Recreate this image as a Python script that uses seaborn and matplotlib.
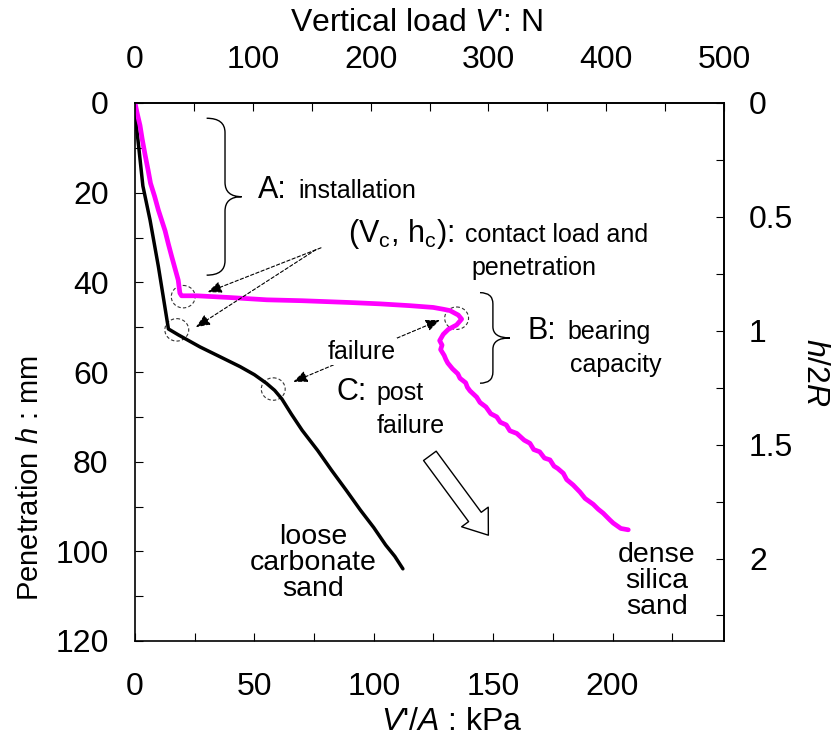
import numpy as np
import pandas as pd
import seaborn as sns
import matplotlib.pyplot as plt
from matplotlib.patches import Ellipse, FancyArrowPatch, PathPatch
from matplotlib.path import Path
from matplotlib.ticker import MultipleLocator, FixedLocator

# Caisson geometry (radius in mm) used for the secondary axes
radius_mm = 25.4
area_m2 = np.pi * (radius_mm / 1000.0) ** 2
load_max_N = 500.0
pressure_max_kPa = load_max_N / area_m2 / 1000.0

# Loose carbonate sand: bearing pressure (kPa) vs penetration (mm)
carbonate_kpa = [0.0, 0.4, 1.8, 3.3, 6.3, 9.8, 14.0, 18.1, 27.2, 36.0, 44.0,
                 50.0, 55.0, 58.5, 61.5, 65.5, 70.0, 76.5, 82.3, 88.5, 94.4,
                 100.0, 105.0, 108.8, 112.2]
carbonate_h = [0.0, 4.2, 11.0, 18.5, 26.1, 36.5, 50.4, 51.7, 54.4, 56.7, 58.8,
               60.6, 62.5, 64.1, 66.0, 69.4, 73.0, 77.5, 81.9, 86.4, 90.8,
               94.7, 98.6, 101.1, 103.9]

# Dense silica sand: bearing pressure (kPa) vs penetration (mm)
silica_kpa = [0.0, 1.0, 2.1, 3.0, 4.2, 5.5, 6.5, 8.2, 9.8, 11.2, 12.6, 14.0,
              15.4, 16.8, 18.1, 18.8, 19.5, 25.8, 40.0, 55.2, 70.0,
              90.0, 102.6, 115.0, 124.9, 129.1, 131.9, 135.4, 136.8, 134.7,
              131.2, 129.1, 127.6, 128.6, 128.0, 129.5, 130.2, 131.0, 133.0,
              135.2, 136.1, 138.5, 139.2, 140.3, 143.1, 144.5, 147.0, 149.0,
              151.5, 153.0, 155.5, 157.0, 159.9, 163.0, 165.4, 167.0, 169.5,
              171.5, 173.8, 175.5, 177.0, 179.4, 180.8, 183.5, 186.4, 188.5,
              191.9, 194.0, 196.1, 198.9, 200.3, 203.5, 206.6]
silica_h = [0.0, 2.5, 5.0, 8.0, 11.5, 15.0, 17.9, 20.8, 23.9, 26.2, 28.5, 31.5,
            34.3, 37.0, 39.5, 42.4, 43.0, 43.0, 43.4, 43.9, 44.1,
            44.5, 44.8, 45.2, 45.6, 46.0, 46.3, 47.3, 48.2, 49.5,
            50.5, 51.6, 53.0, 54.0, 55.0, 56.3, 57.2, 58.0, 59.3,
            60.4, 61.4, 62.4, 63.4, 64.2, 65.6, 66.8, 67.8, 69.3,
            70.0, 71.2, 71.8, 73.1, 73.7, 75.2, 75.9, 77.3, 77.8,
            79.2, 79.6, 81.0, 81.5, 82.6, 84.0, 85.2, 86.8, 88.2,
            89.5, 90.6, 91.5, 93.0, 93.7, 94.9, 95.2]

carbonate = pd.DataFrame({"pressure": carbonate_kpa, "h": carbonate_h})
silica = pd.DataFrame({"pressure": silica_kpa, "h": silica_h})

sns.set_theme(style="white")
plt.rcParams["font.family"] = ["Liberation Sans", "DejaVu Sans"]
plt.rcParams["mathtext.fontset"] = "custom"
plt.rcParams["mathtext.rm"] = "Liberation Sans"
plt.rcParams["mathtext.it"] = "Liberation Sans:italic"
for key in ["text.color", "axes.labelcolor", "xtick.color", "ytick.color",
            "axes.edgecolor", "xtick.labelcolor", "ytick.labelcolor"]:
    plt.rcParams[key] = "black"

W, H = 836, 736
fig = plt.figure(figsize=(W / 100, H / 100), dpi=100)
ax = fig.add_axes([135 / W, 1 - 641 / H, 589 / W, 538 / H])

sns.lineplot(data=carbonate, x="pressure", y="h", sort=False, estimator=None,
             color="black", lw=2.5, ax=ax)
sns.lineplot(data=silica, x="pressure", y="h", sort=False, estimator=None,
             color="#ff00ff", lw=3.4, ax=ax)

ax.set_xlim(0, pressure_max_kPa)
ax.set_ylim(120, 0)
ax.set_xlabel("")
ax.set_ylabel("")

for s in ax.spines.values():
    s.set_linewidth(1.2)
    s.set_color("black")

ax.xaxis.set_major_locator(FixedLocator([0, 50, 100, 150, 200]))
ax.xaxis.set_minor_locator(FixedLocator([25, 75, 125, 175, 225]))
ax.yaxis.set_major_locator(MultipleLocator(20))
ax.yaxis.set_minor_locator(MultipleLocator(10))
ax.tick_params(which="both", direction="in", length=6, width=0.8,
               top=False, right=False, bottom=True, left=True, color="black")
ax.tick_params(axis="x", labelsize=23, pad=22)
ax.tick_params(axis="y", labelsize=23, pad=19)

# Secondary axes: total load in N (top), normalised depth h/2R (right)
secx = ax.secondary_xaxis("top", functions=(lambda p: p * 1000 * area_m2,
                                            lambda n: n / (1000 * area_m2)))
secx.xaxis.set_major_locator(FixedLocator([0, 100, 200, 300, 400, 500]))
secx.xaxis.set_minor_locator(FixedLocator([50, 150, 250, 350, 450]))
secx.tick_params(which="both", direction="in", length=6, width=0.8, labelsize=23,
                 pad=20, colors="black")
secx.spines["top"].set_linewidth(1.2)

secy = ax.secondary_yaxis("right", functions=(lambda h: h / (2 * radius_mm),
                                              lambda r: r * 2 * radius_mm))
secy.yaxis.set_major_locator(FixedLocator([0, 0.5, 1, 1.5, 2]))
secy.yaxis.set_minor_locator(FixedLocator([0.25, 0.75, 1.25, 1.75, 2.25]))
secy.yaxis.set_major_formatter(plt.FuncFormatter(lambda v, _: f"{v:g}"))
secy.tick_params(which="both", direction="in", length=6, width=0.8, labelsize=23,
                 pad=18, colors="black")
secy.spines["right"].set_linewidth(1.2)

# Axis titles
fig.text(416 / W, 1 - 23 / H, "Vertical load $V$': N", fontsize=23, ha="center", va="center")
fig.text(452 / W, 1 - 722 / H, "$V$'/$A$ : kPa", fontsize=23, ha="center", va="center")
fig.text(30 / W, 1 - 478 / H, "Penetration $h$ : mm", fontsize=21, ha="center",
         va="center", rotation=90)
fig.text(815 / W, 1 - 372 / H, "$h/2R$", fontsize=23, ha="center", va="center",
         rotation=270)


def brace(x_end, x_spine, x_tip, y_top, y_bot, r):
    ym = 0.5 * (y_top + y_bot)
    verts = [(x_end, y_top), (x_spine, y_top), (x_spine, y_top + r),
             (x_spine, ym - r), (x_spine, ym), (x_tip, ym),
             (x_spine, ym), (x_spine, ym + r),
             (x_spine, y_bot - r), (x_spine, y_bot), (x_end, y_bot)]
    codes = [Path.MOVETO, Path.CURVE3, Path.CURVE3,
             Path.LINETO, Path.CURVE3, Path.CURVE3,
             Path.CURVE3, Path.CURVE3,
             Path.LINETO, Path.CURVE3, Path.CURVE3]
    ax.add_patch(PathPatch(Path(verts, codes), fill=False, lw=1.0, ec="black"))


brace(30.0, 37.7, 44.7, 3.4, 38.4, 3.2)
brace(144.5, 149.9, 157.0, 42.3, 62.5, 2.5)

# Dashed circles marking contact and failure points
for cx, cy in [(20.2, 43.2), (17.5, 50.6), (134.7, 48.0), (57.9, 63.8)]:
    ax.add_patch(Ellipse((cx, cy), 10.0, 5.0, fill=False, lw=0.8,
                         ls=(0, (3, 2)), ec="#333333"))

dash_arrow = dict(arrowstyle="-|>,head_length=0.85,head_width=0.35", lw=0.8,
                  ls=(0, (3, 2)), color="black", shrinkA=0, shrinkB=0,
                  mutation_scale=10)
ax.annotate("", xy=(30.4, 42.2), xytext=(77.9, 32.3), arrowprops=dash_arrow)
ax.annotate("", xy=(25.5, 50.0), xytext=(75.8, 32.7), arrowprops=dash_arrow)
ax.annotate("", xy=(127.7, 48.4), xytext=(66.3, 62.2),
            arrowprops=dict(dash_arrow, arrowstyle="<|-|>,head_length=0.85,head_width=0.35"))
ax.text(94.9, 55.5, "failure", fontsize=18, ha="center", va="center",
        bbox=dict(fc="white", ec="none", pad=1))

# Open arrow showing the post-failure direction
ax.add_patch(FancyArrowPatch((123.5, 78.7), (148.0, 96.4),
                             arrowstyle="simple,head_length=1.63,head_width=2.38,tail_width=1.13",
                             mutation_scale=10, fc="white", ec="black", lw=1.0,
                             shrinkA=0, shrinkB=0))

# Stage annotations
ax.text(51.5, 21.3, "A:", fontsize=22, va="baseline")
ax.text(68.3, 21.3, "installation", fontsize=18, va="baseline")
ax.text(89.2, 30.9, r"(V$_{\rm c}$, h$_{\rm c}$):", fontsize=22, va="baseline")
ax.text(138.2, 30.9, "contact load and", fontsize=18, va="baseline")
ax.text(141.1, 38.4, "penetration", fontsize=18, va="baseline")
ax.text(164.6, 52.7, "B:", fontsize=22, va="baseline")
ax.text(181.3, 52.7, "bearing", fontsize=18, va="baseline")
ax.text(182.2, 59.9, "capacity", fontsize=18, va="baseline")
ax.text(84.5, 66.2, "C:", fontsize=22, va="baseline")
ax.text(101.2, 66.2, "post", fontsize=18, va="baseline")
ax.text(101.2, 73.5, "failure", fontsize=18, va="baseline")

ax.text(74.7, 102.6, "loose\ncarbonate\nsand", fontsize=20.5, ha="center",
        va="center", linespacing=1.0)
ax.text(218.5, 106.6, "dense\nsilica\nsand", fontsize=20.5, ha="center",
        va="center", linespacing=1.0)

fig.savefig("out.png", dpi=100)
